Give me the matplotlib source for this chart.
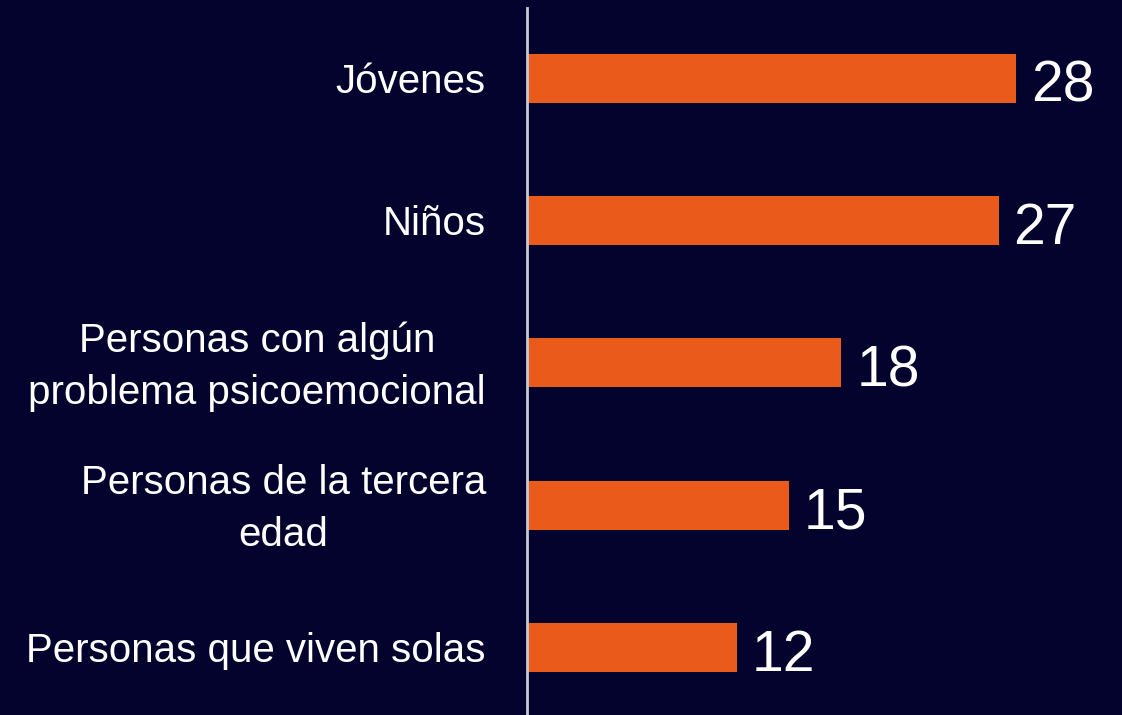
import matplotlib.pyplot as plt
import matplotlib.transforms as mtransforms

categories = ["Jóvenes", "Niños", "Personas con algún\nproblema psicoemocional",
              "Personas de la tercera\nedad", "Personas que viven solas"]
values = [28, 27, 18, 15, 12]

bg = "#03032e"
bar_color = "#ea5a1a"

plt.rcParams['font.family'] = ['Liberation Sans', 'DejaVu Sans']

fig = plt.figure(figsize=(11.22, 7.15), dpi=100, facecolor=bg)
ax = fig.add_axes([527 / 1122, 0, 1 - 527 / 1122, 707 / 715], facecolor=bg)

pos = list(range(len(categories)))
ax.barh(pos, values, height=0.345, color=bar_color)
ax.set_xlim(0, 28 * 595 / 489)
ax.set_ylim(4.475, -0.495)

for p, v in zip(pos, values):
    ax.text(v + 0.85, p + 0.06, str(v), va='center', ha='left', color='white', fontsize=41)

# category labels, right-aligned to a column left of the axis line
trans = mtransforms.blended_transform_factory(ax.transAxes, ax.transData)
for p, cat in zip(pos, categories):
    ax.text(-41 / 595, p + 0.026, cat, transform=trans, ha='right', va='center',
            multialignment='center', color='white', fontsize=29, linespacing=1.45)

ax.set_yticks([])
ax.set_xticks([])

for s in ['top', 'right', 'bottom']:
    ax.spines[s].set_visible(False)
ax.spines['left'].set_color('#c8c8d2')
ax.spines['left'].set_linewidth(2)

fig.savefig('out.png', dpi=100, facecolor=bg)
